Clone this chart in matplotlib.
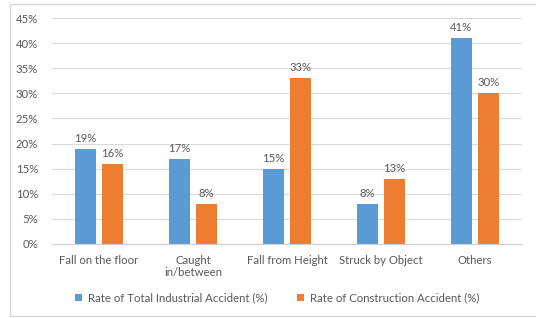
import numpy as np
import matplotlib.pyplot as plt
from matplotlib.patches import Rectangle
from matplotlib.ticker import FuncFormatter

plt.rcParams['font.family'] = ['Lato', 'DejaVu Sans']

categories = ["Fall on the floor", "Caught\nin/between", "Fall from Height", "Struck by Object", "Others"]
total_industrial = [19, 17, 15, 8, 41]
construction = [16, 8, 33, 13, 30]
series_names = ["Rate of Total Industrial Accident (%)", "Rate of Construction Accident (%)"]
colors = ["#5B9BD5", "#ED7D31"]
text_color = "#595959"
fs = 8.2

fig = plt.figure(figsize=(5.36, 3.18), dpi=100)
ax = fig.add_axes([52 / 536, 1 - 244 / 318, 470 / 536, 226 / 318])

# chart border (light gray, like the excel chart area)
fig.patches.append(Rectangle((10 / 536, 2 / 318), 0.99, 1 - 6 / 318,
                             transform=fig.transFigure, fill=False,
                             edgecolor="#d9d9d9", lw=1))

x = np.arange(len(categories))
w = 0.225
off = 0.144
for vals, name, c, d in [(total_industrial, series_names[0], colors[0], -off),
                         (construction, series_names[1], colors[1], off)]:
    bars = ax.bar(x + d, np.array(vals) / 100, w, color=c, label=name)
    for b, v in zip(bars, vals):
        ax.annotate(f"{v}%", (b.get_x() + b.get_width() / 2, b.get_height()),
                    xytext=(0, 3.5), textcoords="offset points",
                    ha="center", va="bottom", fontsize=fs, color=text_color)

ax.set_xlim(-0.5, len(categories) - 0.5)
ax.set_ylim(0, 0.45)
ax.set_yticks(np.arange(0, 0.46, 0.05))
ax.yaxis.set_major_formatter(FuncFormatter(lambda v, p: f"{v * 100:.0f}%"))
ax.set_xticks(x)
ax.set_xticklabels(categories, linespacing=1.15)
ax.tick_params(axis="both", length=0, labelsize=fs, labelcolor=text_color)
ax.tick_params(axis="x", pad=8)
ax.tick_params(axis="y", pad=10)
ax.grid(axis="y", color="#d9d9d9", lw=0.8)
ax.set_axisbelow(True)
for s in ["top", "right", "left"]:
    ax.spines[s].set_visible(False)
ax.spines["bottom"].set_color("#d0d0d0")

fig.legend(loc="center", bbox_to_anchor=(0.517, 0.063), ncol=2, frameon=False,
           fontsize=8.2, handlelength=0.6, handleheight=0.6, handletextpad=0.5,
           columnspacing=2.6, labelcolor=text_color)

fig.savefig("out.png", dpi=100)
